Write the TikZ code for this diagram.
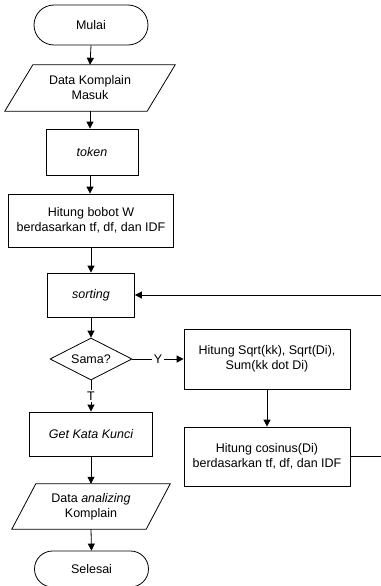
\documentclass[tikz,border=0pt]{standalone}
\usepackage{fontspec}
\setmainfont{Liberation Sans}
\usetikzlibrary{arrows.meta,shapes.misc,shapes.geometric,calc}
\begin{document}
\begin{tikzpicture}[x=1pt,y=-1pt,
  every node/.style={font=\fontsize{12.5}{15}\selectfont, align=center, inner sep=0pt},
  ln/.style={line width=0.8pt},
  term/.style={draw, ln, rounded rectangle, minimum width=114pt, minimum height=40pt},
  proc/.style={draw, ln, rectangle},
  io/.style={rectangle},
  arr/.style={ln, -{Triangle[length=7pt,width=7pt]}},
  lbl/.style={fill=white, inner sep=2pt}]
\useasboundingbox (0,0) rectangle (380,586);

\node[term] (start) at (91,25) {Mulai};
\node[io, minimum width=142pt, minimum height=46pt] (in) at (90,88) {Data Komplain\\Masuk};
\node[proc, minimum width=92pt, minimum height=46pt] (tok) at (92,152) {\itshape token};
\node[proc, minimum width=165pt, minimum height=53pt] (bobot) at (91,220.5) {Hitung bobot W\\berdasarkan tf, df, dan IDF};
\node[proc, minimum width=87pt, minimum height=44pt] (sort) at (91,295) {\itshape sorting};
\node[diamond, draw, ln, aspect=2, minimum width=82pt, minimum height=42pt] (dec) at (91,359) {Sama?};
\node[proc, minimum width=123pt, minimum height=44pt] (kunci) at (91,434) {\itshape Get Kata Kunci};
\node[io, minimum width=134pt, minimum height=45pt] (out) at (91,506.5) {Data \textit{analizing}\\Komplain};
\node[term, minimum height=36pt] (end) at (91.5,569) {Selesai};

\node[proc, minimum width=166pt, minimum height=60pt] (sqrt) at (267,359) {Hitung Sqrt(kk), Sqrt(Di),\\Sum(kk dot Di)};
\node[proc, minimum width=166pt, minimum height=59pt] (cos) at (267,456.5) {Hitung cosinus(Di)\\berdasarkan tf, df, dan IDF};

% parallelograms
\draw[ln] ($(in.south west)+(-14,0)$) -- ($(in.south east)+(-14,0)$) -- ($(in.north east)+(14,0)$) -- ($(in.north west)+(14,0)$) -- cycle;
\draw[ln] ($(out.south west)+(-12,0)$) -- ($(out.south east)+(-12,0)$) -- ($(out.north east)+(12,0)$) -- ($(out.north west)+(12,0)$) -- cycle;

% connectors
\draw[arr] (start.south) -- (in.north);
\draw[arr] (in.south) -- (in.south |- tok.north);
\draw[arr] (in.south |- tok.south) -- (in.south |- bobot.north);
\draw[arr] (bobot.south) -- (sort.north);
\draw[arr] (sort.south) -- (dec.north);
\draw[arr] (dec.east) -- node[lbl] {Y} (sqrt.west);
\draw[arr] (dec.south) -- node[lbl] {T} (kunci.north);
\draw[arr] (kunci.south) -- (out.north);
\draw[arr] (out.south) -- (end.north);
\draw[arr] (sqrt.south) -- (cos.north);

\coordinate (r1) at (384,456.5);
\coordinate (r2) at (384,295);
\draw[ln] (cos.east) -- (r1) -- (r2);
\draw[arr] (r2) -- (sort.east);
\end{tikzpicture}
\end{document}
